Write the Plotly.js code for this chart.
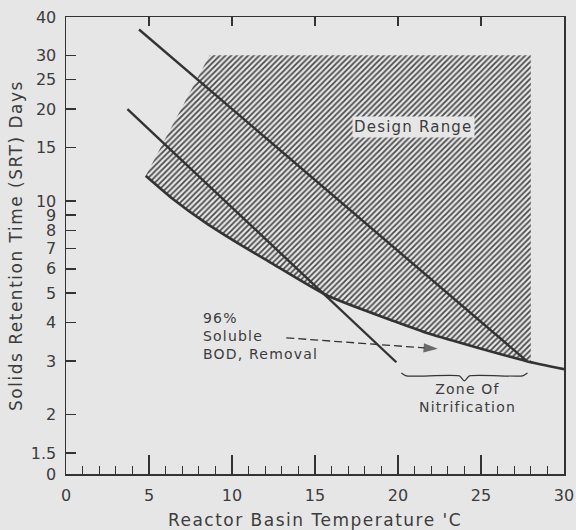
<!DOCTYPE html>
<html><head><meta charset="utf-8">
<script src="https://cdn.plot.ly/plotly-3.0.1.min.js"></script>
<style>
html,body{margin:0;padding:0;background:#e6e6e7;}
.xtitle, .ytitle { letter-spacing: 1.5px; }
.annotation-text { letter-spacing: 1.2px; }
</style>
</head><body><div id="chart" style="width:576px;height:530px;"></div>
<script>
// ---- data ----
const nitrLineX = [4.4, 27.75];
const nitrLineY = [36.4, 3.0];
const bodLineX = [3.7, 19.9];
const bodLineY = [20.0, 2.97];
const minSrtX = [4.8, 6.4, 8.4, 10.5, 12.2, 15.7, 19.7, 21.9, 27.7, 30];
const minSrtY = [12.1, 10.2, 8.5, 7.2, 6.35, 4.92, 4.06, 3.68, 3.0, 2.82];
const designCornerX = [8.65, 28, 28];
const designCornerY = [30, 30, 2.98];
const braceX = [20.2, 20.5, 23.7, 24.0, 24.3, 27.5, 27.8];
const braceY = [2.74, 2.68, 2.68, 2.58, 2.68, 2.68, 2.74];
const arrowX = [13.27, 22.4];
const arrowY = [3.57, 3.285];
const yTickVals = [1.28, 1.5, 2, 3, 4, 5, 6, 7, 8, 9, 10, 15, 20, 25, 30, 40];
const yTickText = ['0','1.5','2','3','4','5','6','7','8','9','10','15','20','25','30','40'];
const xTickVals = [0, 5, 10, 15, 20, 25, 30];
const xTickText = ['0','5','10','15','20','25','30'];
const xTopTickVals = [5, 10, 15, 20, 25];

const ink = '#333333';
const txt = '#3c3c3c';
const bg = '#e6e6e7';
const font = 'DejaVu Sans';

// hatched design-range polygon: corners + lower curve (reversed)
const polyX = designCornerX.slice();
const polyY = designCornerY.slice();
for (let i = minSrtX.length - 1; i >= 0; i--) {
  if (minSrtX[i] < designCornerX[1]) { polyX.push(minSrtX[i]); polyY.push(minSrtY[i]); }
}
polyX.push(designCornerX[0]); polyY.push(designCornerY[0]);

const traces = [
  {x: polyX, y: polyY, type: 'scatter', mode: 'lines', fill: 'toself',
   line: {width: 0, color: 'rgba(0,0,0,0)'}, fillcolor: 'rgba(0,0,0,0)',
   fillpattern: {shape: '/', size: 4, solidity: 0.45, fgcolor: '#4a4a4a', bgcolor: 'rgba(0,0,0,0)'},
   hoverinfo: 'skip', showlegend: false},
  {x: nitrLineX, y: nitrLineY, type: 'scatter', mode: 'lines', line: {color: ink, width: 2.4}, showlegend: false},
  {x: bodLineX, y: bodLineY, type: 'scatter', mode: 'lines', line: {color: ink, width: 2.4}, showlegend: false},
  {x: minSrtX, y: minSrtY, type: 'scatter', mode: 'lines', line: {color: ink, width: 2.6, shape: 'spline', smoothing: 0.6}, showlegend: false},
  {x: braceX, y: braceY, type: 'scatter', mode: 'lines', line: {color: ink, width: 1.2, shape: 'spline', smoothing: 0.5}, showlegend: false},
  {x: arrowX, y: arrowY, type: 'scatter', mode: 'lines+markers', line: {color: ink, width: 1.3, dash: '8px,4px'},
   marker: {symbol: 'arrow', angleref: 'previous', size: [0, 15], color: ink, line: {width: 0}}, showlegend: false},
  {x: [0, 30], y: [2, 2], xaxis: 'x2', yaxis: 'y', type: 'scatter', mode: 'none', hoverinfo: 'skip', showlegend: false}
];

const layout = {
  width: 576, height: 530,
  margin: {l: 66, r: 12, t: 17, b: 56},
  paper_bgcolor: bg, plot_bgcolor: bg,
  font: {family: font, color: txt, size: 16},
  showlegend: false,
  xaxis: {
    range: [0, 30], tickmode: 'array', tickvals: xTickVals, ticktext: xTickText,
    ticks: 'inside', ticklen: 19, tickwidth: 1.4, tickcolor: ink,
    minor: {ticks: 'inside', ticklen: 8, tickwidth: 1.2, tickcolor: ink, dtick: 1, tick0: 0, showgrid: false},
    showline: true, mirror: true, linecolor: ink, linewidth: 1.5,
    showgrid: false, zeroline: false, ticklabelstandoff: 6,
    tickfont: {size: 16, color: txt},
    title: {text: "Reactor Basin Temperature 'C", font: {size: 17, color: txt}, standoff: 12}
  },
  xaxis2: {
    range: [0, 30], overlaying: 'x', side: 'top', anchor: 'y',
    tickmode: 'array', tickvals: xTopTickVals, ticks: 'inside', ticklen: 9, tickwidth: 1.4, tickcolor: ink,
    showticklabels: false, showgrid: false, zeroline: false, showline: false
  },
  yaxis: {
    type: 'log', range: [Math.log10(1.28), Math.log10(40)],
    tickmode: 'array', tickvals: yTickVals, ticktext: yTickText,
    ticks: 'inside', ticklen: 10, tickwidth: 1.4, tickcolor: ink,
    showline: true, mirror: true, linecolor: ink, linewidth: 1.5,
    showgrid: false, zeroline: false, ticklabelstandoff: 5,
    tickfont: {size: 16, color: txt},
    title: {text: 'Solids Retention Time (SRT) Days', font: {size: 17, color: txt}, standoff: 4}
  },
  annotations: [
    {x: 20.94, y: Math.log10(17.5), xref: 'x', yref: 'y', text: 'Design Range', showarrow: false,
     font: {size: 15, color: txt}, bgcolor: bg, borderpad: 1},
    {x: 8.15, y: Math.log10(3.63), xref: 'x', yref: 'y', text: '96%<br>Soluble<br>BOD, Removal', showarrow: false,
     xanchor: 'left', align: 'left', font: {size: 14, color: txt}},
    {x: 24.2, y: Math.log10(2.27), xref: 'x', yref: 'y', text: 'Zone Of<br>Nitrification', showarrow: false,
     align: 'center', font: {size: 14, color: txt}}
  ]
};

Plotly.newPlot('chart', traces, layout, {displayModeBar: false, staticPlot: true});
</script>
</body></html>
